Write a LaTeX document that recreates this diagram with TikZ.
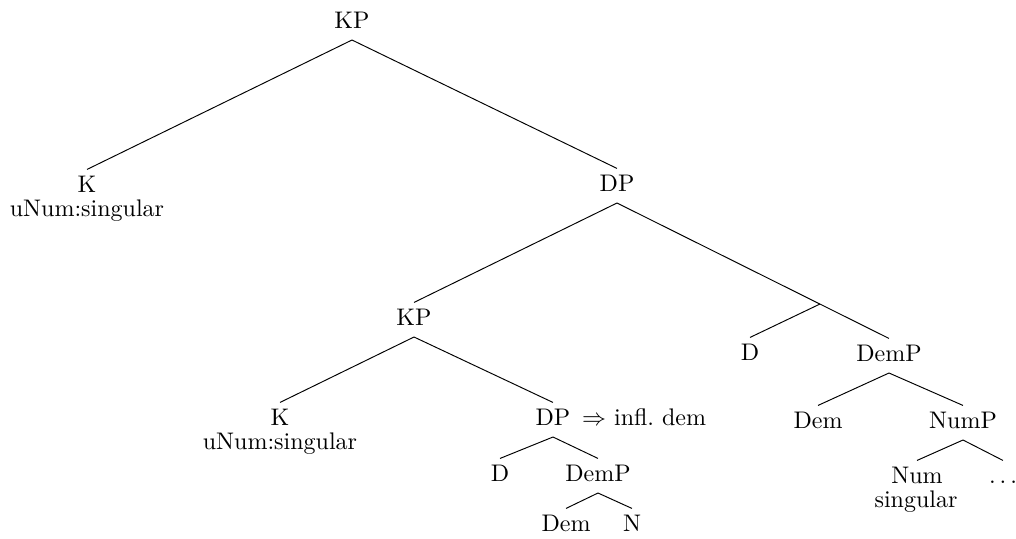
\documentclass[tikz,border=0pt]{standalone}
\usetikzlibrary{calc,positioning}

\begin{document}
\begin{tikzpicture}[x=0.4167pt, y=-0.4167pt,
  cat/.style={anchor=base, inner sep=2pt, text height=7.2pt, text depth=2.8pt},
  feat/.style={anchor=base, inner sep=0pt}]
\useasboundingbox (0,0) rectangle (1016,538);
% Root
\node[cat] (KP0) at (352,28) {KP};
% Upper level
\node[cat] (K1) at (87,192) {K};
\node[feat] (K1f) at (87,216) {uNum:singular};
\node[cat] (DP1) at (617,191) {DP};
% Embedded KP
\node[cat] (KP2) at (414,325) {KP};
\node[cat] (K2) at (280,425) {K};
\node[feat] (K2f) at (280,449) {uNum:singular};
\node[cat] (DP2) at (553,425) {DP};
\node[feat, anchor=base west, inner sep=2.5pt] (DP2note) at (DP2.base east) {$\Rightarrow$ infl.\ dem};
\node[cat] (D2) at (500,481) {D};
\node[cat] (DemP2) at (598,481) {DemP};
\node[cat] (Dem3) at (566,531) {Dem};
\node[cat] (N3) at (632,531) {N};
% Right branch
\node[cat] (D1) at (750,360) {D};
\node[cat] (DemP1) at (889,361) {DemP};
\node[cat] (Dem1) at (818,428) {Dem};
\node[cat] (NumP) at (963,428) {NumP};
\node[cat] (Num) at (917,483) {Num};
\node[feat] (Numf) at (916,507) {singular};
\node[cat] (dots) at (1003,483) {$\ldots$};
% Branches
\draw (KP0.south) -- (K1.north);
\draw (KP0.south) -- (DP1.north);
\draw (DP1.south) -- (KP2.north);
\draw (DP1.south) -- (DemP1.north);
\coordinate (br) at ($(DP1.south)!0.746!(DemP1.north)$);
\draw (br) -- (D1.north);
\draw (KP2.south) -- (K2.north);
\draw (KP2.south) -- (DP2.north);
\draw (DP2.south) -- (D2.north);
\draw (DP2.south) -- (DemP2.north);
\draw (DemP2.south) -- (Dem3.north);
\draw (DemP2.south) -- (N3.north);
\draw (DemP1.south) -- (Dem1.north);
\draw (DemP1.south) -- (NumP.north);
\draw (NumP.south) -- (Num.north);
\draw (NumP.south) -- (dots.north);
\end{tikzpicture}
\end{document}
